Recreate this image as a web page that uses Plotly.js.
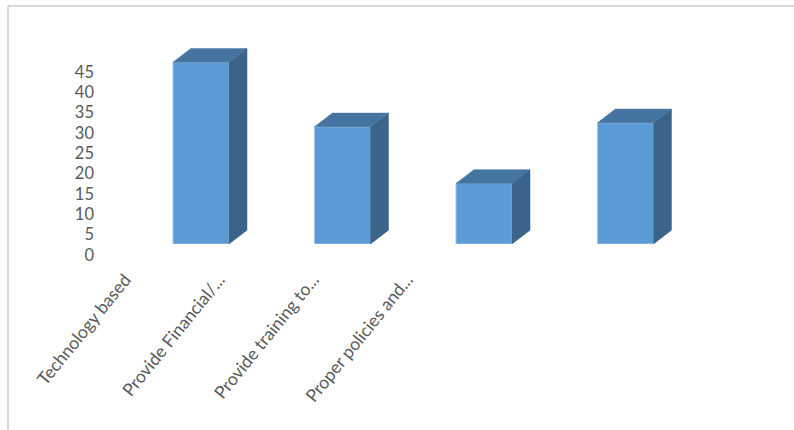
<!DOCTYPE html>
<html>
<head>
<meta charset="utf-8">
<script src="https://cdn.plot.ly/plotly-3.0.1.min.js"></script>
<style>html,body{margin:0;padding:0;background:#fff;}#chart{width:794px;height:430px;}</style>
</head>
<body>
<div id="chart"></div>
<script>
const categories = ['Technology based', 'Provide Financial/...', 'Provide training to...', 'Proper policies and...'];
const values = [45, 29, 15, 30];
const yTicks = [0, 5, 10, 15, 20, 25, 30, 35, 40, 45];

const W = 794, H = 430;
const px = v => v / W;
const py = v => 1 - v / H;

// 3D style constants (in axis units)
const halfW = 0.198;   // half bar width (category units)
const depthX = 0.127;  // depth offset in category units
const depthY = 3.4;    // depth offset in value units

const idx = values.map((v, i) => i);

const sideX = [], sideY = [];
const topX = [], topY = [];
values.forEach((v, i) => {
  const r = i + halfW, l = i - halfW;
  sideX.push(r, r + depthX, r + depthX, r, r, null);
  sideY.push(0, depthY, v + depthY, v, 0, null);
  topX.push(l, l + depthX, r + depthX, r, l, null);
  topY.push(v, v + depthY, v + depthY, v, v, null);
});

const traces = [
  {
    type: 'scatter', x: sideX, y: sideY, xaxis: 'x', yaxis: 'y2',
    mode: 'lines', fill: 'toself', fillcolor: '#3a6489',
    line: {color: '#3a6489', width: 0.5}, hoverinfo: 'skip'
  },
  {
    type: 'scatter', x: topX, y: topY, xaxis: 'x', yaxis: 'y2',
    mode: 'lines', fill: 'toself', fillcolor: '#4674a1',
    line: {color: '#4674a1', width: 0.5}, hoverinfo: 'skip'
  },
  {
    type: 'bar', x: idx, y: values, xaxis: 'x', yaxis: 'y2',
    width: halfW * 2,
    marker: {color: '#5b9bd5', line: {color: '#a9c8ea', width: 1}},
    hoverinfo: 'skip'
  },
  {
    type: 'scatter', x: categories, y: values, xaxis: 'x2', yaxis: 'y',
    mode: 'markers', marker: {opacity: 0, size: 1}, hoverinfo: 'skip'
  }
];

const layout = {
  width: W, height: H,
  margin: {l: 0, r: 0, t: 0, b: 0},
  paper_bgcolor: '#ffffff', plot_bgcolor: 'rgba(0,0,0,0)',
  showlegend: false, hovermode: false,
  font: {family: 'Lato, "Liberation Sans", sans-serif', color: '#595959'},
  xaxis: {
    domain: [px(130.25), px(696.25)], range: [-0.5, 3.5],
    anchor: 'y2', visible: false, fixedrange: true
  },
  yaxis2: {
    domain: [py(244), py(42)], range: [0, 50],
    anchor: 'x', visible: false, fixedrange: true
  },
  xaxis2: {
    type: 'category', domain: [px(78), px(454)], range: [-0.5, 3.5],
    anchor: 'free', position: py(265),
    tickangle: -51, showgrid: false, zeroline: false, showline: false, ticks: '',
    tickfont: {size: 17.5, color: '#595959'}, fixedrange: true
  },
  yaxis: {
    domain: [py(255), py(72)], range: [0, 45],
    anchor: 'free', position: px(94),
    tickmode: 'array', tickvals: yTicks, ticktext: yTicks.map(String),
    showgrid: false, zeroline: false, showline: false, ticks: '',
    tickfont: {size: 16.5, color: '#595959'}, fixedrange: true
  },
  shapes: [
    {type: 'line', xref: 'paper', yref: 'paper', x0: px(8), x1: 1, y0: py(6), y1: py(6),
     line: {color: '#d9d9d9', width: 2}},
    {type: 'line', xref: 'paper', yref: 'paper', x0: px(8), x1: px(8), y0: py(6), y1: 0,
     line: {color: '#d9d9d9', width: 2}}
  ]
};

Plotly.newPlot('chart', traces, layout, {displayModeBar: false, staticPlot: true});
</script>
</body>
</html>
